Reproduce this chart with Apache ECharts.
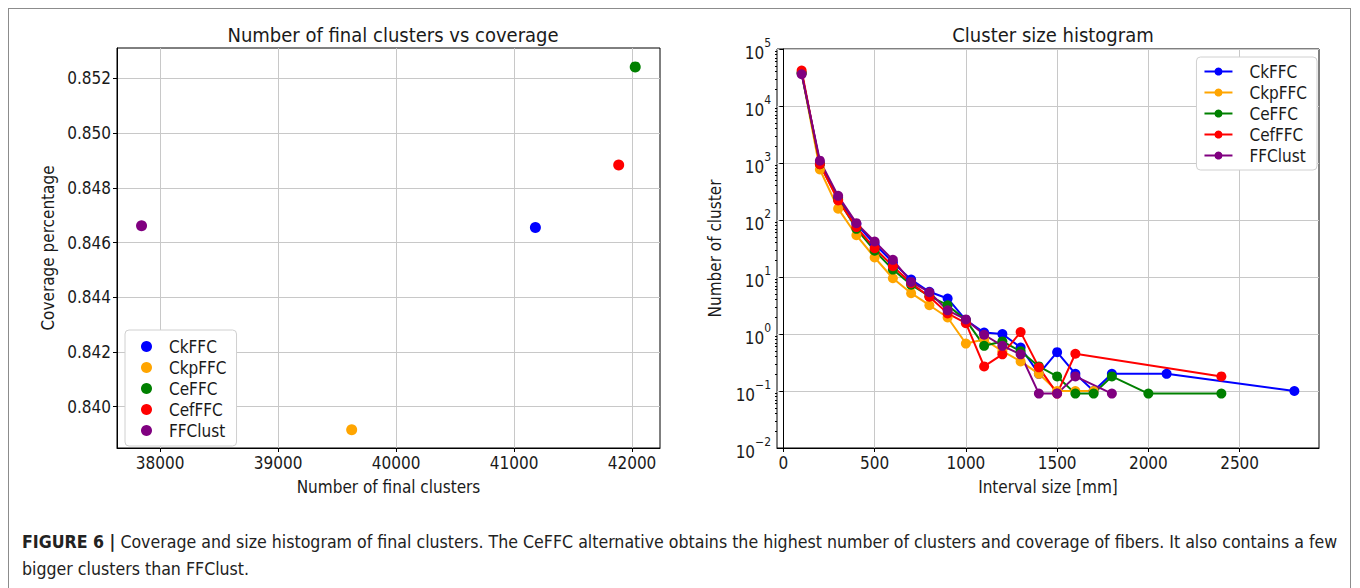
<!DOCTYPE html>
<html>
<head>
<meta charset="utf-8">
<script src="https://cdn.jsdelivr.net/npm/echarts@6/dist/echarts.min.js"></script>
<style>
  html, body { margin: 0; padding: 0; background: #fff; }
  body { width: 1360px; height: 588px; position: relative; overflow: hidden; }
  .frame { position: absolute; left: 8px; top: 8px; width: 1343px; height: 620px; border: 1.5px solid #8c8c8c; box-sizing: border-box; }
  #chart-cover { position: absolute; left: 0; top: 0; width: 680px; height: 500px; }
  #chart-hist { position: absolute; left: 680px; top: 0; width: 680px; height: 500px; }
  .caption { position: absolute; left: 22px; top: 529px; width: 1335px; font-family: 'Liberation Sans Narrow', 'DejaVu Sans Condensed', sans-serif; font-size: 17.6px; line-height: 27px; color: #222; white-space: nowrap; }
  .caption b { font-weight: bold; }
</style>
</head>
<body>
<div class="frame"></div>
<div id="chart-cover"></div>
<div id="chart-hist"></div>
<div class="caption"><b>FIGURE 6 |</b> Coverage and size histogram of final clusters. The CeFFC alternative obtains the highest number of clusters and coverage of fibers. It also contains a few<br>bigger clusters than FFClust.</div>
<script>
// method names and colours
var methods = ['CkFFC', 'CkpFFC', 'CeFFC', 'CefFFC', 'FFClust'];
var colors = ['#0000ff', '#ffa500', '#008000', '#ff0000', '#800080'];

// left: number of final clusters vs coverage
var finalClusters = [41181, 39624, 42027, 41887, 37843];
var coverage = [0.84655, 0.83916, 0.85242, 0.84883, 0.84661];
var clusterTicks = [38000, 39000, 40000, 41000, 42000];
var coverageTicks = [0.840, 0.842, 0.844, 0.846, 0.848, 0.850, 0.852];

// right: cluster size histogram (interval size in mm, number of clusters)
var ckffcX = [100, 200, 300, 400, 500, 600, 700, 800, 900, 1000, 1100, 1200, 1300, 1400, 1500, 1600, 1700, 1800, 2100, 2800];
var ckffcY = [38000, 1000, 245, 85, 38, 18, 9.0, 5.5, 4.2, 1.75, 1.06, 1.0, 0.58, 0.2, 0.48, 0.2, 0.1, 0.2, 0.2, 0.1];
var ckpffcX = [100, 200, 300, 400, 500, 600, 700, 800, 900, 1000, 1100, 1200, 1300, 1400, 1500, 1600, 1700];
var ckpffcY = [38000, 770, 158, 54, 22, 9.5, 5.2, 3.2, 1.95, 0.68, 0.8, 0.5, 0.33, 0.2, 0.1, 0.1, 0.1];
var ceffcX = [100, 200, 300, 400, 500, 600, 700, 800, 900, 1000, 1100, 1200, 1300, 1400, 1500, 1600, 1700, 1800, 2000, 2400];
var ceffcY = [38000, 950, 230, 70, 29, 13.5, 7.3, 4.6, 3.2, 1.75, 0.62, 0.74, 0.5, 0.27, 0.18, 0.09, 0.09, 0.18, 0.09, 0.09];
var cefffcX = [100, 200, 300, 400, 500, 600, 700, 800, 900, 1000, 1100, 1200, 1300, 1400, 1500, 1600, 2400];
var cefffcY = [42000, 950, 220, 75, 32, 15.5, 7.8, 4.5, 2.3, 1.55, 0.27, 0.44, 1.08, 0.26, 0.09, 0.45, 0.18];
var ffclustX = [100, 200, 300, 400, 500, 600, 700, 800, 900, 1000, 1100, 1200, 1300, 1400, 1500, 1600, 1800];
var ffclustY = [36000, 1100, 265, 88, 42, 20, 8.2, 5.4, 2.6, 1.8, 0.97, 0.62, 0.44, 0.09, 0.09, 0.18, 0.09];
var intervalTicks = [0, 500, 1000, 1500, 2000, 2500];
var countTicks = [0.01, 0.1, 1, 10, 100, 1000, 10000, 100000];

(function() {
  var font = "'DejaVu Sans Condensed', 'DejaVu Sans', sans-serif";
  var ink = '#1a1a1a';
  var gridColor = '#c8c8c8';
  var fs = 17;

  function pairs(xs, ys) {
    return xs.map(function(x, i) { return [x, ys[i]]; });
  }
  function plain(v) { return String(v); }

  var legendBox = {
    orient: 'vertical',
    backgroundColor: '#fff',
    borderColor: '#d0d0d0',
    borderWidth: 1,
    borderRadius: 4,
    itemGap: 4,
    textStyle: { color: ink, fontSize: fs, fontFamily: font, padding: [0, 0, 0, 12] }
  };

  // ==========================================
  // chart 1: Number of final clusters vs coverage
  // ==========================================
  var chartCover = echarts.init(document.getElementById('chart-cover'), null, { renderer: 'svg' });

  chartCover.setOption({
    animation: false,
    textStyle: { fontFamily: font, color: ink },
    title: {
      text: 'Number of final clusters vs coverage',
      left: 388, top: 20, textAlign: 'center',
      textStyle: { fontSize: 20, fontWeight: 'normal', color: ink, fontFamily: font }
    },
    legend: Object.assign({}, legendBox, {
      left: 125, top: 330,
      padding: [8, 10, 7, 16],
      icon: 'circle',
      itemWidth: 11, itemHeight: 11,
      data: methods
    }),
    grid: { left: 117, top: 48, width: 543, height: 406, show: true, borderColor: '#000', borderWidth: 1 },
    xAxis: {
      type: 'value',
      min: 37635, max: 42237,
      name: 'Number of final clusters',
      nameLocation: 'middle', nameGap: 30,
      nameTextStyle: { fontSize: fs, color: ink },
      axisLine: { lineStyle: { color: '#000' } },
      axisTick: { customValues: clusterTicks, length: 4, lineStyle: { color: '#000' } },
      axisLabel: { customValues: clusterTicks, fontSize: fs, color: ink, margin: 6, formatter: plain },
      splitLine: { lineStyle: { color: gridColor } }
    },
    yAxis: {
      type: 'value',
      min: 0.83849, max: 0.85311,
      name: 'Coverage percentage',
      nameLocation: 'middle', nameGap: 60,
      nameTextStyle: { fontSize: fs, color: ink },
      axisLine: { lineStyle: { color: '#000' } },
      axisTick: { customValues: coverageTicks, length: 4, lineStyle: { color: '#000' } },
      axisLabel: {
        customValues: coverageTicks, fontSize: fs, color: ink, margin: 6,
        formatter: function(v) { return v.toFixed(3); }
      },
      splitLine: { lineStyle: { color: gridColor } }
    },
    series: methods.map(function(name, i) {
      return {
        name: name,
        type: 'scatter',
        symbolSize: 11,
        itemStyle: { color: colors[i], opacity: 1 },
        data: [[finalClusters[i], coverage[i]]]
      };
    })
  });

  // ==========================================
  // chart 2: Cluster size histogram
  // ==========================================
  var chartHist = echarts.init(document.getElementById('chart-hist'), null, { renderer: 'svg' });

  var histData = [
    pairs(ckffcX, ckffcY),
    pairs(ckpffcX, ckpffcY),
    pairs(ceffcX, ceffcY),
    pairs(cefffcX, cefffcY),
    pairs(ffclustX, ffclustY)
  ];

  var minorTicks = [];
  for (var d = -2; d < 5; d++) {
    for (var m = 2; m < 10; m++) minorTicks.push(m * Math.pow(10, d));
  }

  chartHist.setOption({
    animation: false,
    textStyle: { fontFamily: font, color: ink },
    title: {
      text: 'Cluster size histogram',
      left: 368, top: 20, textAlign: 'center',
      textStyle: { fontSize: 20, fontWeight: 'normal', color: ink, fontFamily: font }
    },
    legend: Object.assign({}, legendBox, {
      right: 43, top: 57,
      padding: [6, 10, 6, 7],
      itemWidth: 28, itemHeight: 10,
      data: methods
    }),
    grid: { left: 97, top: 49, width: 542, height: 402, show: true, borderColor: '#000', borderWidth: 1 },
    xAxis: {
      type: 'value',
      min: -35, max: 2935,
      name: 'Interval size [mm]',
      nameLocation: 'middle', nameGap: 30,
      nameTextStyle: { fontSize: fs, color: ink },
      axisLine: { onZero: false, lineStyle: { color: '#000' } },
      axisTick: { customValues: intervalTicks, length: 4, lineStyle: { color: '#000' } },
      axisLabel: { customValues: intervalTicks, fontSize: fs, color: ink, margin: 6, formatter: plain },
      splitLine: { lineStyle: { color: gridColor } }
    },
    yAxis: [
      {
        type: 'log',
        logBase: 10,
        min: 0.01, max: 100000,
        name: 'Number of cluster',
        nameLocation: 'middle', nameGap: 54,
        nameTextStyle: { fontSize: fs, color: ink },
        axisLine: { lineStyle: { color: '#000' } },
        axisTick: { customValues: countTicks, length: 4, lineStyle: { color: '#000' } },
        axisLabel: {
          customValues: countTicks, color: ink, margin: 6,
          formatter: function(v) {
            var e = Math.round(Math.log10(v));
            return '{b|10}{sup|' + (e < 0 ? '\u2212' + (-e) : e) + '}';
          },
          rich: {
            b: { fontSize: fs, fontFamily: font, color: ink, lineHeight: 24, verticalAlign: 'bottom' },
            sup: { fontSize: 12, fontFamily: font, color: ink, lineHeight: 24, verticalAlign: 'top' }
          }
        },
        splitLine: { lineStyle: { color: gridColor } }
      },
      {
        type: 'log',
        logBase: 10,
        min: 0.01, max: 100000,
        position: 'left',
        axisLine: { show: false },
        axisTick: { customValues: minorTicks, length: 2, lineStyle: { color: '#000' } },
        axisLabel: { show: false },
        splitLine: { show: false }
      }
    ],
    series: methods.map(function(name, i) {
      return {
        name: name,
        type: 'line',
        symbol: 'circle',
        symbolSize: 10,
        showAllSymbol: true,
        lineStyle: { width: 2, color: colors[i] },
        itemStyle: { color: colors[i] },
        data: histData[i]
      };
    })
  });
})();
</script>
</body>
</html>
